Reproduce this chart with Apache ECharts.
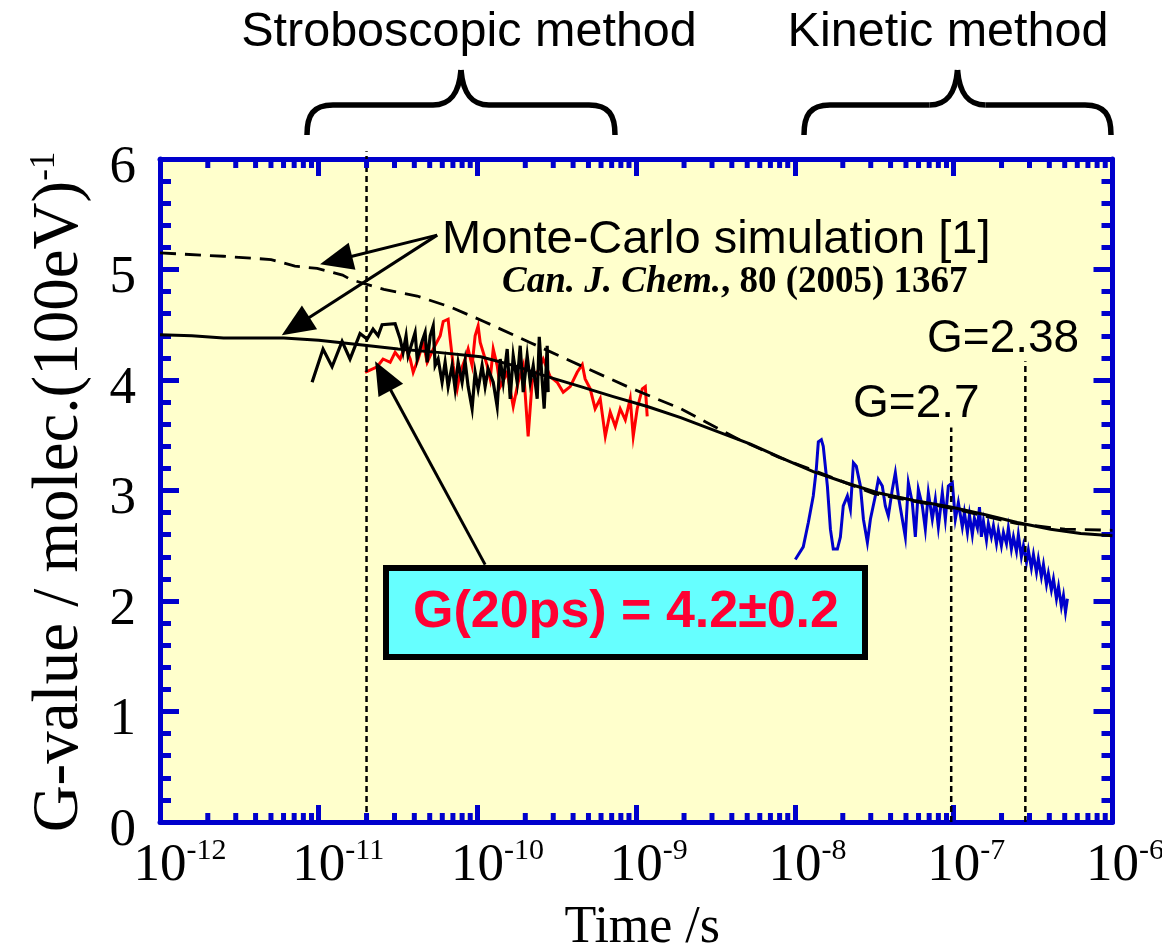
<!DOCTYPE html>
<html>
<head>
<meta charset="utf-8">
<script src="https://cdn.jsdelivr.net/npm/echarts/dist/echarts.min.js"></script>
<style>
  html, body { margin: 0; padding: 0; background: #ffffff; }
  #chart { width: 1162px; height: 948px; }
</style>
</head>
<body>
<div id="chart"></div>
<script>
// ---- data: log10(time / s) and G-value (molec./100 eV) ----

// Monte-Carlo simulation, solid curve
const mcSolidLogT = [-12.0, -11.8, -11.6, -11.4, -11.22, -11.0, -10.74, -10.5, -10.25, -9.98, -9.77, -9.56,
  -9.35, -9.145, -8.93, -8.72, -8.5, -8.28, -8.08, -7.885, -7.68, -7.48, -7.25, -7.02, -6.8, -6.6, -6.39, -6.2, -6.0];
const mcSolidG = [4.41, 4.40, 4.38, 4.38, 4.38, 4.36, 4.32, 4.28, 4.25, 4.21, 4.13, 4.03,
  3.94, 3.85, 3.76, 3.66, 3.54, 3.42, 3.29, 3.17, 3.07, 2.98, 2.91, 2.85, 2.78, 2.71, 2.65, 2.61, 2.59];

// Monte-Carlo simulation, dashed curve
const mcDashLogT = [-12.0, -11.6, -11.3, -11.15, -11.01, -10.85, -10.8, -10.59, -10.38, -10.17, -9.96, -9.67,
  -9.35, -9.04, -8.72, -8.35, -8.1, -7.88, -7.5, -7.02, -6.6, -6.3, -6.0];
const mcDashG = [5.15, 5.12, 5.09, 5.03, 5.01, 4.95, 4.91, 4.82, 4.76, 4.66, 4.53, 4.34,
  4.13, 3.93, 3.74, 3.46, 3.30, 3.18, 2.97, 2.84, 2.70, 2.65, 2.64];

// stroboscopic measurement (black trace)
const strobeBlackLogT = [-11.042, -10.973, -10.916, -10.853, -10.803, -10.740, -10.695, -10.658, -10.626, -10.601,
  -10.519, -10.487, -10.469, -10.450, -10.437, -10.412, -10.393, -10.380, -10.349, -10.330,
  -10.317, -10.298, -10.279, -10.267, -10.248, -10.223, -10.204, -10.185, -10.160, -10.141,
  -10.122, -10.097, -10.078, -10.059, -10.034, -10.015, -9.996, -9.971, -9.952, -9.933,
  -9.901, -9.876, -9.857, -9.838, -9.813, -9.794, -9.775, -9.750, -9.731, -9.712,
  -9.687, -9.668, -9.649, -9.624, -9.611, -9.592, -9.580, -9.561, -9.555];
const strobeBlackG = [3.98, 4.28, 4.12, 4.35, 4.19, 4.42, 4.37, 4.46, 4.40, 4.50,
  4.51, 4.37, 4.25, 4.40, 4.22, 4.34, 4.43, 4.19, 4.35, 4.43,
  4.16, 4.40, 4.49, 4.13, 4.19, 3.98, 4.16, 3.94, 4.13, 3.92,
  4.16, 3.98, 4.17, 3.94, 3.74, 4.07, 3.92, 4.13, 3.94, 4.10,
  3.98, 3.76, 4.19, 3.98, 4.28, 3.83, 4.22, 3.98, 4.31, 3.89,
  4.22, 3.98, 4.13, 3.83, 4.39, 3.98, 3.74, 4.31, 3.89];

// stroboscopic measurement (red trace)
const strobeRedLogT = [-10.708, -10.632, -10.595, -10.550, -10.519, -10.487, -10.456, -10.424, -10.405, -10.374,
  -10.342, -10.317, -10.279, -10.235, -10.216, -10.185, -10.172, -10.153, -10.128, -10.109,
  -10.078, -10.059, -10.034, -10.015, -9.996, -9.983, -9.964, -9.939, -9.920, -9.901,
  -9.876, -9.857, -9.813, -9.775, -9.744, -9.712, -9.681, -9.656, -9.624, -9.586,
  -9.542, -9.498, -9.460, -9.416, -9.372, -9.340, -9.322, -9.290, -9.259, -9.227,
  -9.195, -9.164, -9.132, -9.101, -9.069, -9.038, -9.019, -8.994, -8.962, -8.943, -8.931];
const strobeRedG = [4.07, 4.12, 4.19, 4.16, 4.25, 4.19, 4.31, 4.19, 4.07, 4.19,
  4.34, 4.16, 4.28, 4.40, 4.53, 4.55, 4.37, 4.13, 3.92, 4.07,
  4.19, 4.28, 4.13, 4.40, 4.49, 4.34, 4.25, 4.13, 4.01, 4.28,
  4.13, 3.94, 4.07, 3.76, 3.98, 4.13, 3.49, 3.98, 4.07, 4.19,
  4.03, 3.98, 3.89, 3.94, 4.07, 4.14, 4.01, 3.92, 3.74, 3.83,
  3.49, 3.71, 3.58, 3.74, 3.64, 3.83, 3.49, 3.74, 3.92, 3.94, 3.67];

// kinetic measurement (blue trace)
const kineticLogT = [-7.998, -7.948, -7.916, -7.885, -7.866, -7.853, -7.834, -7.822, -7.796, -7.777,
  -7.759, -7.733, -7.714, -7.696, -7.670, -7.651, -7.632, -7.614, -7.588, -7.569,
  -7.544, -7.525, -7.494, -7.475, -7.450, -7.431, -7.412, -7.387, -7.368, -7.349,
  -7.324, -7.305, -7.286, -7.261, -7.242, -7.223, -7.198, -7.179, -7.160, -7.135,
  -7.116, -7.097, -7.072, -7.053, -7.034, -7.009, -6.990, -6.971,
  -6.946, -6.933, -6.914, -6.901, -6.883, -6.870, -6.851, -6.838, -6.826, -6.813,
  -6.794, -6.782, -6.763, -6.750, -6.731, -6.719, -6.700, -6.687, -6.668, -6.656,
  -6.637, -6.624, -6.605, -6.593, -6.574, -6.561, -6.542, -6.530, -6.511, -6.498,
  -6.479, -6.467, -6.448, -6.435, -6.416, -6.404, -6.385, -6.372, -6.353, -6.340,
  -6.322, -6.309, -6.296, -6.284];
const kineticG = [2.375, 2.49, 2.71, 2.95, 3.19, 3.44, 3.46, 3.40, 3.04, 2.65,
  2.47, 2.47, 2.58, 2.86, 2.95, 2.83, 3.25, 3.22, 3.04, 2.74,
  2.53, 2.74, 2.95, 3.10, 3.04, 2.86, 2.77, 3.01, 3.16, 2.95,
  2.74, 2.58, 3.07, 2.89, 2.58, 3.01, 2.86, 2.65, 2.98, 2.74,
  2.92, 2.67, 2.98, 2.74, 3.04, 3.07, 2.74, 2.89,
  2.67, 2.80, 2.62, 2.78, 2.60, 2.75, 2.66, 2.85, 2.58, 2.72,
  2.55, 2.70, 2.58, 2.68, 2.52, 2.64, 2.50, 2.62, 2.52, 2.66,
  2.47, 2.58, 2.45, 2.60, 2.40, 2.50, 2.35, 2.46, 2.30, 2.42,
  2.26, 2.38, 2.22, 2.33, 2.15, 2.25, 2.10, 2.20, 2.02, 2.13,
  1.95, 2.05, 1.90, 2.02];

// time markers (log10 s) and the height their dashed guides reach
const markerLogT = [Math.log10(2e-11), -7.016, -6.549];
const markerTopG = [6.07, 3.57, 4.17];

// annotation arrows: [fromLogT, fromG, toLogT, toG]
const arrowLines = [
  [-10.254, 5.311, -10.992, 5.048],
  [-10.254, 5.311, -11.233, 4.405],
  [-9.952, 2.329, -10.645, 4.169]
];

// axes
const xDecades = [-12, -11, -10, -9, -8, -7, -6];
const xMinorMantissas = [2, 3, 4, 5, 6, 7, 8, 9];
const yMin = 0, yMax = 6, yStep = 1;

// ---- styling ----
const FRAME = '#0000cc';
const SERIF = '"Liberation Serif", "Times New Roman", serif';
const SANS = '"Liberation Sans", Arial, Helvetica, sans-serif';

const pairs = (lt, g) => lt.map((t, i) => [Math.pow(10, t), g[i]]);

const minorTickData = [];
xDecades.slice(0, -1).forEach(e => xMinorMantissas.forEach(m => minorTickData.push([m * Math.pow(10, e), 0])));

function traceSeries(name, lt, g, color, width, type) {
  return {
    name, type: 'line', data: pairs(lt, g), showSymbol: false, symbol: 'none',
    lineStyle: { color, width, type: type || 'solid', join: 'miter' },
    silent: true, z: 3
  };
}

const chart = echarts.init(document.getElementById('chart'));

const xAxisBase = {
  type: 'log', logBase: 10, min: 1e-12, max: 1e-6, splitNumber: 6,
  axisLine: { show: true, onZero: false, lineStyle: { color: FRAME, width: 5 } },
  axisTick: { show: true, inside: true, length: 17, lineStyle: { color: FRAME, width: 5 } },
  splitLine: { show: false }
};
const yAxisBase = {
  type: 'value', min: yMin, max: yMax, interval: yStep,
  axisLine: { show: true, onZero: false, lineStyle: { color: FRAME, width: 5 } },
  axisTick: { show: true, inside: true, length: 19, lineStyle: { color: FRAME, width: 5 } },
  minorTick: { show: true, splitNumber: 5, length: 11, lineStyle: { color: FRAME, width: 5 } },
  splitLine: { show: false }
};

chart.setOption({
  animation: false,
  backgroundColor: '#ffffff',
  grid: {
    left: 160, top: 159, right: 49.5, bottom: 126,
    outerBoundsMode: 'none', containLabel: false,
    show: true, backgroundColor: '#ffffcc', borderWidth: 0
  },
  xAxis: [
    Object.assign({}, xAxisBase, {
      position: 'bottom',
      name: 'Time /s', nameLocation: 'middle', nameGap: 80,
      nameTextStyle: { fontFamily: SERIF, fontSize: 52, color: '#000', padding: [0, 0, 0, 12] },
      axisLabel: {
        show: true, margin: 14,
        formatter: v => {
          const e = Math.round(Math.log10(v));
          return '{h|' + e + '}{b|10}{s|' + e + '}';
        },
        rich: {
          h: { fontFamily: SERIF, fontSize: 30, color: 'rgba(0,0,0,0)', verticalAlign: 'top', lineHeight: 30 },
          b: { fontFamily: SERIF, fontSize: 53, color: '#000', lineHeight: 60 },
          s: { fontFamily: SERIF, fontSize: 30, color: '#000', verticalAlign: 'top', lineHeight: 30 }
        }
      }
    }),
    Object.assign({}, xAxisBase, { position: 'top', axisLabel: { show: false } })
  ],
  yAxis: [
    Object.assign({}, yAxisBase, {
      position: 'left',
      axisLabel: { show: true, margin: 24, fontFamily: SERIF, fontSize: 53, color: '#000', verticalAlign: 'top', lineHeight: 18 }
    }),
    Object.assign({}, yAxisBase, { position: 'right', axisLabel: { show: false } })
  ],
  series: [
    {
      // log-spaced minor ticks on the bottom and top frame edges
      type: 'custom', coordinateSystem: 'cartesian2d', silent: true, clip: false, z: 10,
      data: minorTickData, encode: { x: 0, y: 1 },
      renderItem: (params, api) => {
        const b = api.coord([api.value(0), yMin]);
        const t = api.coord([api.value(0), yMax]);
        const st = { stroke: FRAME, lineWidth: 5 };
        return {
          type: 'group', children: [
            { type: 'line', shape: { x1: b[0], y1: b[1], x2: b[0], y2: b[1] - 9 }, style: st },
            { type: 'line', shape: { x1: t[0], y1: t[1], x2: t[0], y2: t[1] + 9 }, style: st }
          ]
        };
      }
    },
    traceSeries('Stroboscopic (red)', strobeRedLogT, strobeRedG, '#ff0000', 3),
    traceSeries('Kinetic', kineticLogT, kineticG, '#0000cc', 3),
    traceSeries('Stroboscopic (black)', strobeBlackLogT, strobeBlackG, '#000000', 3.2),
    traceSeries('Monte-Carlo (dashed)', mcDashLogT, mcDashG, '#000000', 2.8, [16, 9]),
    traceSeries('Monte-Carlo', mcSolidLogT, mcSolidG, '#000000', 3),
    ...markerLogT.map((t, i) => ({
      type: 'line', data: [[Math.pow(10, t), yMin], [Math.pow(10, t), markerTopG[i]]],
      showSymbol: false, symbol: 'none', clip: false, silent: true, z: 4,
      lineStyle: { color: '#000', width: 2.5, type: [6, 4] }
    }))
  ]
});

// ---- annotations ----
function px(logT, g) {
  return chart.convertToPixel({ gridIndex: 0 }, [Math.pow(10, logT), g]);
}

function arrowGraphics(a) {
  const p0 = px(a[0], a[1]);
  const p1 = px(a[2], a[3]);
  const dx = p1[0] - p0[0], dy = p1[1] - p0[1];
  const len = Math.hypot(dx, dy);
  const ux = dx / len, uy = dy / len, nx = -uy, ny = ux;
  const L = 33, W = 14;
  const bx = p1[0] - ux * L, by = p1[1] - uy * L;
  return [
    { type: 'line', shape: { x1: p0[0], y1: p0[1], x2: bx + ux * 4, y2: by + uy * 4 },
      style: { stroke: '#000', lineWidth: 3 }, z: 20 },
    { type: 'polygon', shape: { points: [[p1[0], p1[1]], [bx + nx * W, by + ny * W], [bx - nx * W, by - ny * W]] },
      style: { fill: '#000' }, z: 20 }
  ];
}

// curly brace opening downwards, built from straight and cubic segments
function braceParts(x1, x2, yTip, yBar, yEnd) {
  const xm = (x1 + x2) / 2;
  const st = { stroke: '#000', lineWidth: 5.5, fill: null, lineCap: 'butt' };
  const seg = shape => ({ type: 'bezierCurve', shape, style: st, z: 20 });
  const ln = shape => ({ type: 'line', shape, style: st, z: 20 });
  return [
    seg({ x1: x1, y1: yEnd, cpx1: x1, cpy1: yBar + 10, cpx2: x1 + 6, cpy2: yBar, x2: x1 + 26, y2: yBar }),
    ln({ x1: x1 + 26, y1: yBar, x2: xm - 28, y2: yBar }),
    seg({ x1: xm - 28, y1: yBar, cpx1: xm - 10, cpy1: yBar, cpx2: xm - 2, cpy2: yBar - 12, x2: xm, y2: yTip }),
    seg({ x1: xm, y1: yTip, cpx1: xm + 2, cpy1: yBar - 12, cpx2: xm + 10, cpy2: yBar, x2: xm + 28, y2: yBar }),
    ln({ x1: xm + 28, y1: yBar, x2: x2 - 26, y2: yBar }),
    seg({ x1: x2 - 26, y1: yBar, cpx1: x2 - 6, cpy1: yBar, cpx2: x2, cpy2: yBar + 10, x2: x2, y2: yEnd })
  ];
}

const graphics = [];
arrowLines.forEach(a => graphics.push(...arrowGraphics(a)));
graphics.push(...braceParts(307, 615, 70, 105, 135));
graphics.push(...braceParts(804, 1111, 70, 105, 135));

graphics.push(
  // y-axis title, reading bottom to top
  { type: 'text', x: 60, y: 492, rotation: Math.PI / 2, z: 20,
    style: {
      text: '{a|G-value / molec.(100eV)}{s|-1}', align: 'center', verticalAlign: 'middle',
      rich: {
        a: { fontFamily: SERIF, fontSize: 65, fill: '#000', lineHeight: 66 },
        s: { fontFamily: SERIF, fontSize: 35, fill: '#000', verticalAlign: 'top', lineHeight: 35 }
      }
    } },
  { type: 'text', x: 469, y: 33, z: 20,
    style: { text: 'Stroboscopic method', font: '48.5px ' + SANS, fill: '#000', align: 'center', verticalAlign: 'middle' } },
  { type: 'text', x: 948, y: 33, z: 20,
    style: { text: 'Kinetic method', font: '48.5px ' + SANS, fill: '#000', align: 'center', verticalAlign: 'middle' } },
  { type: 'text', x: 442, y: 240, z: 20,
    style: { text: 'Monte-Carlo simulation [1]', font: '47px ' + SANS, fill: '#000', align: 'left', verticalAlign: 'middle' } },
  { type: 'text', x: 502, y: 282, z: 20,
    style: {
      text: '{i|Can. J. Chem.}{r|, 80 (2005) 1367}', align: 'left', verticalAlign: 'middle',
      rich: {
        i: { fontFamily: SERIF, fontSize: 37, fontWeight: 'bold', fontStyle: 'italic', fill: '#000' },
        r: { fontFamily: SERIF, fontSize: 37, fontWeight: 'bold', fill: '#000' }
      }
    } },
  { type: 'text', x: 927, y: 339, z: 20,
    style: { text: 'G=2.38', font: '46px ' + SANS, fill: '#000', align: 'left', verticalAlign: 'middle' } },
  { type: 'text', x: 853, y: 404, z: 20,
    style: { text: 'G=2.7', font: '46px ' + SANS, fill: '#000', align: 'left', verticalAlign: 'middle' } },
  { type: 'rect', shape: { x: 386, y: 568, width: 479, height: 89 },
    style: { fill: '#66ffff', stroke: '#000', lineWidth: 6 }, z: 21 },
  { type: 'text', x: 626, y: 613, z: 22,
    style: { text: 'G(20ps) = 4.2\u00b10.2', font: 'bold 52px ' + SANS, fill: '#ff0033', align: 'center', verticalAlign: 'middle' } }
);

chart.setOption({ graphic: graphics });
</script>
</body>
</html>
